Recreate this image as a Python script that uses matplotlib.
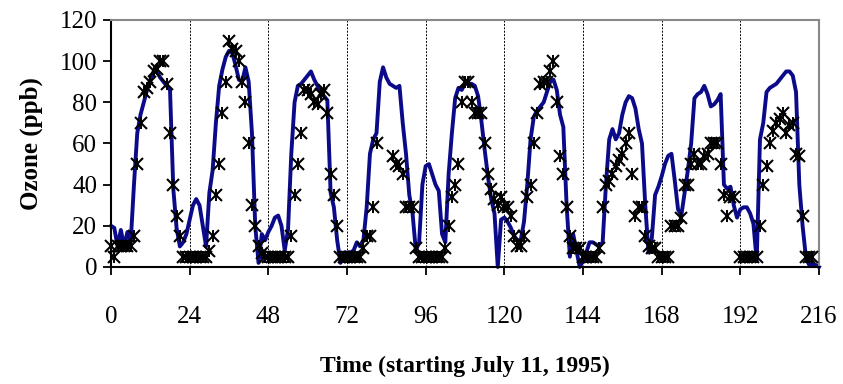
import numpy as np
import matplotlib
matplotlib.use("Agg")
import matplotlib.pyplot as plt

plt.rcParams['font.family'] = ['Liberation Serif', 'DejaVu Serif']

# hourly model ozone (ppb), t = 0..216
model = [20, 19, 10, 18, 10, 17, 12, 40, 65, 74, 80, 86, 91, 95, 95, 92, 90, 88, 86, 38, 19, 10, 12, 16,
         23, 30, 33, 30, 20, 10, 36, 47, 70, 88, 96, 102, 105, 104, 98, 91, 90, 97, 90, 65, 20, 2, 16, 13,
         17, 20, 24, 25, 20, 8, 18, 55, 80, 88, 89, 91, 93, 95, 91, 88, 85, 83, 81, 36, 29, 13, 2, 7,
         7, 7, 8, 12, 10, 13, 29, 55, 62, 65, 90, 97, 92, 89, 88, 87, 88, 70, 55, 35, 26, 8, 12, 40,
         49, 50, 45, 40, 37, 16, 12, 45, 65, 82, 87, 86, 89, 89, 89, 88, 83, 71, 57, 44, 33, 26, 0, 23,
         24, 22, 19, 15, 13, 13, 22, 40, 62, 73, 76, 78, 80, 85, 90, 91, 86, 74, 68, 30, 5, 16, 8, 0,
         3, 7, 12, 12, 11, 10, 12, 40, 62, 67, 62, 65, 74, 80, 83, 82, 77, 67, 60, 30, 7, 14, 35, 39,
         44, 50, 54, 55, 42, 28, 25, 36, 47, 60, 82, 84, 85, 88, 84, 78, 79, 81, 84, 40, 38, 39, 30, 24,
         28, 29, 29, 26, 21, 3, 62, 70, 85, 87, 88, 89, 91, 93, 95, 95, 93, 85, 40, 20, 5, 1, 1, 1, 0]

nan = np.nan
# hourly observed ozone (ppb)
observed = [10, 5, 10, 10, 10, 10, 10, 15, 50, 70, 85, 87, 90, 95, 96, 100, 100, 89, 65, 40, 25, 15, 5, 5,
            5, 5, 5, 5, 5, 5, 8, 15, 35, 50, 75, 90, 110, 106, 105, 100, 90, 80, 60, 30, 20, 10, 7, 5,
            5, 5, 5, 5, 5, 5, 5, 15, 35, 50, 65, 86, 86, 84, 80, 79, 84, 86, 75, 45, 35, 20, 5, 5,
            5, 5, 5, 5, 5, 9, 15, 15, 29, 60, nan, nan, nan, nan, 54, 50, 49, 45, 29, 29, 29, 9, 5, 5,
            5, 5, 5, 5, 5, 5, 9, 20, 34, 40, 50, 80, 90, 90, 80, 75, 75, 75, 60, 45, 38, 33, 30, 34,
            29, 29, 25, 15, 10, 10, 15, 34, 40, 60, 75, 89, 90, 90, 95, 100, 80, 54, 45, 29, 15, 9, 9, 9,
            5, 5, 5, 5, 5, 9, 29, 40, 42, 45, 49, 52, 55, 60, 65, 45, 25, 29, 29, 15, 10, 9, 9, 5,
            5, 5, 5, 20, 20, 20, 24, 40, 40, 50, 55, 50, 50, 54, 55, 60, 60, 60, 50, 35, 25, 34, 34, nan,
            5, 5, 5, 5, 5, 5, 20, 40, 49, 60, 66, 70, 72, 75, 65, 69, 70, 55, 54, 25, 5, 5, 5, nan, nan]

hours = np.arange(len(model))
xticks = np.arange(0, 217, 24)
yticks = np.arange(0, 121, 20)

fig = plt.figure(figsize=(8.43, 3.84), dpi=100)
ax = fig.add_axes([0.1317, 0.3047, 0.8398, 0.6433])

for d in xticks[1:-1]:
    ax.axvline(d, color='black', lw=0.7, ls=(0, (2, 1.5)), zorder=1)

ax.plot(hours, model, color='#0b0b8a', lw=2.8, zorder=2, clip_on=False)
ax.plot(hours, observed, ls='none', marker='x', ms=8, mew=1.5, color='black', zorder=3, clip_on=False)
ax.plot(hours, observed, ls='none', marker='|', ms=9, mew=1.4, color='black', zorder=3, clip_on=False)

ax.set_xlim(0, 216)
ax.set_ylim(0, 120)
ax.set_xticks(xticks)
ax.set_yticks(yticks)
ax.tick_params(axis='both', direction='out', length=6, width=1.3, labelsize=18)
ax.tick_params(axis='x', pad=22)
ax.tick_params(axis='y', pad=4)

for s in ['top', 'right']:
    ax.spines[s].set_color('#888888')
    ax.spines[s].set_linewidth(1.5)
for s in ['left', 'bottom']:
    ax.spines[s].set_color('black')
    ax.spines[s].set_linewidth(1.5)

ax.set_ylabel('Ozone (ppb)', fontsize=18, fontweight='bold', labelpad=12)
ax.set_xlabel('Time (starting July 11, 1995)', fontsize=17, fontweight='bold', labelpad=20)

fig.savefig('out.png', dpi=100)
